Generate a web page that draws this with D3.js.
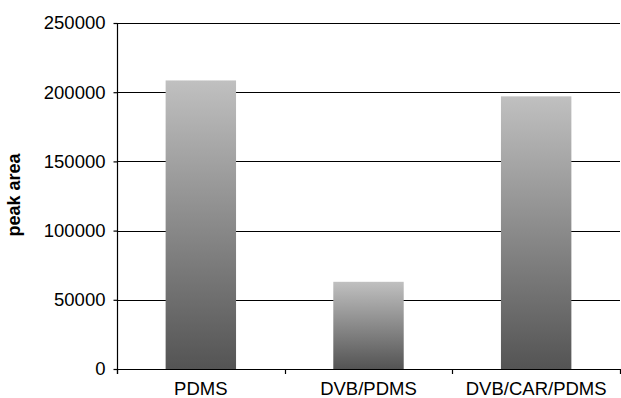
<!DOCTYPE html>
<html>
<head>
<meta charset="utf-8">
<script src="https://cdn.jsdelivr.net/npm/d3@7"></script>
<style>
  html, body { margin: 0; padding: 0; background: #fff; }
  svg text { font-family: "Liberation Sans", Arial, Helvetica, sans-serif; fill: #000; }
</style>
</head>
<body>
<svg id="chart" width="621" height="398"></svg>
<script>
// Fibre coatings and their measured peak areas
const categories = ["PDMS", "DVB/PDMS", "DVB/CAR/PDMS"];
const peakArea = [208500, 63000, 197000];
const yTicks = [0, 50000, 100000, 150000, 200000, 250000];
const yTitle = "peak area";

const svg = d3.select("#chart");
const margin = { left: 117, right: 1, top: 23, bottom: 29 };
const W = 621, H = 398;

const x = d3.scaleBand()
  .domain(categories)
  .range([margin.left, W - margin.right])
  .paddingInner(0.58)
  .paddingOuter(0.29);

const y = d3.scaleLinear()
  .domain([0, 250000])
  .range([H - margin.bottom, margin.top]);

// vertical gradient for the bars: light grey at the top, dark at the base
const grad = svg.append("defs").append("linearGradient")
  .attr("id", "barGrad")
  .attr("x1", 0).attr("y1", 0).attr("x2", 0).attr("y2", 1);
grad.append("stop").attr("offset", "0%").attr("stop-color", "#c0c0c0");
grad.append("stop").attr("offset", "100%").attr("stop-color", "#545454");

// horizontal gridlines
svg.append("g")
  .selectAll("line")
  .data(yTicks)
  .join("line")
  .attr("x1", margin.left)
  .attr("x2", W - margin.right)
  .attr("y1", d => Math.round(y(d)) + 0.5)
  .attr("y2", d => Math.round(y(d)) + 0.5)
  .attr("stroke", "#000")
  .attr("stroke-width", 1.2);

// bars
svg.append("g")
  .selectAll("rect")
  .data(categories)
  .join("rect")
  .attr("x", d => x(d))
  .attr("width", x.bandwidth())
  .attr("y", (d, i) => y(peakArea[i]))
  .attr("height", (d, i) => y(0) - y(peakArea[i]))
  .attr("fill", "url(#barGrad)");

// y axis
const yAxis = d3.axisLeft(y)
  .tickValues(yTicks)
  .tickFormat(d3.format("d"))
  .tickSize(4)
  .tickPadding(8);
const gy = svg.append("g")
  .attr("transform", `translate(${margin.left + 0.5},0)`)
  .call(yAxis);
gy.select(".domain").attr("d", `M0,${y(250000)}V${y(0) + 5}`).attr("stroke", "#000").attr("stroke-width", 1.2);
gy.selectAll(".tick line").attr("stroke", "#000").attr("stroke-width", 1.2);
gy.selectAll(".tick text").style("font-size", "18.5px").style("font-family", "Liberation Sans, Arial, sans-serif");

// x axis: labels centred on bands, ticks at band boundaries
const step = x.step();
const boundaries = d3.range(categories.length + 1).map(i => margin.left + i * step);
const gx = svg.append("g");
gx.selectAll("line")
  .data(boundaries)
  .join("line")
  .attr("x1", d => Math.round(d) + 0.5)
  .attr("x2", d => Math.round(d) + 0.5)
  .attr("y1", y(0))
  .attr("y2", y(0) + 5)
  .attr("stroke", "#000")
  .attr("stroke-width", 1.2);
gx.selectAll("text")
  .data(categories)
  .join("text")
  .attr("x", d => x(d) + x.bandwidth() / 2)
  .attr("y", 395)
  .attr("text-anchor", "middle")
  .style("font-size", "18.5px")
  .text(d => d);

// y axis title
svg.append("text")
  .attr("transform", `translate(20,195) rotate(-90)`)
  .attr("text-anchor", "middle")
  .style("font-size", "18px")
  .style("font-weight", "bold")
  .text(yTitle);
</script>
</body>
</html>
